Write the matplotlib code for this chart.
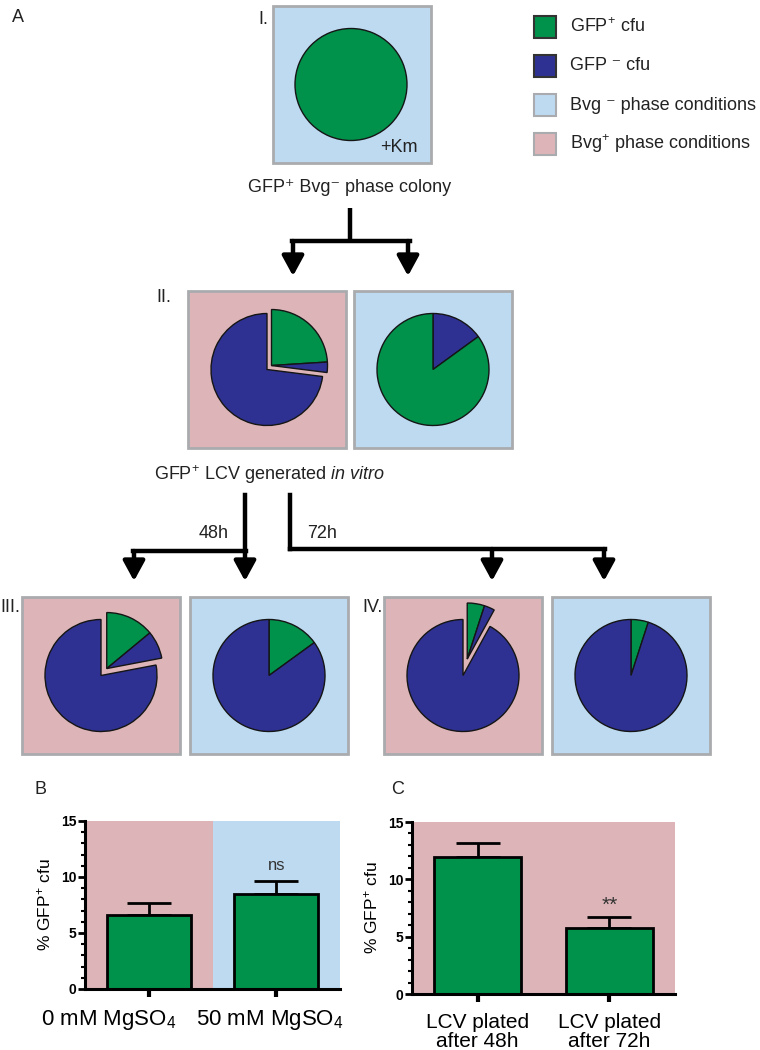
import numpy as np
import matplotlib
matplotlib.use('Agg')
import matplotlib.pyplot as plt
from matplotlib.patches import Rectangle
from matplotlib.transforms import ScaledTranslation

plt.rcParams['font.family'] = ['Liberation Sans', 'DejaVu Sans']
plt.rcParams['mathtext.fontset'] = 'custom'
plt.rcParams['mathtext.rm'] = 'Liberation Sans'
plt.rcParams['mathtext.it'] = 'Liberation Sans:italic'
plt.rcParams['mathtext.bf'] = 'Liberation Sans:bold'

GREEN = '#00924A'
NAVY = '#2E3192'
PINK = '#DDB5B8'
LBLUE = '#BDDAF1'
GREY = '#A9ABAE'

# legend entries
legend_labels = ['GFP$^{+}$ cfu', 'GFP \u207b cfu',
                 'Bvg \u207b phase conditions', 'Bvg$^{+}$ phase conditions']
legend_colors = [GREEN, NAVY, LBLUE, PINK]

# pie fractions (% cfu), clockwise from 12 o'clock
pie_I = [100]
pie_I_colors = [GREEN]
pie_II_pos = [24, 3, 73]       # Bvg+ plate, first two slices pulled out
pie_II_pos_colors = [GREEN, NAVY, NAVY]
pie_II_neg = [15, 85]
pie_II_neg_colors = [NAVY, GREEN]
pie_III_pos = [14, 8, 78]
pie_III_pos_colors = [GREEN, NAVY, NAVY]
pie_III_neg = [15, 85]
pie_III_neg_colors = [GREEN, NAVY]
pie_IV_pos = [5, 3, 92]
pie_IV_pos_colors = [GREEN, NAVY, NAVY]
pie_IV_neg = [5, 95]
pie_IV_neg_colors = [GREEN, NAVY]

# panel B / C bar data
b_labels = ['0 mM MgSO$_4$', '50 mM MgSO$_4$']
b_means = [6.6, 8.5]
b_err = [1.05, 1.1]
c_labels = ['LCV plated\nafter 48h', 'LCV plated\nafter 72h']
c_means = [11.95, 5.75]
c_err = [1.25, 1.0]

W, H = 760, 1050
R = 56

fig = plt.figure(figsize=(W / 100, H / 100), dpi=100)
ax = fig.add_axes([0, 0, 1, 1])


def plate(x0, y0, color, w=158, h=157):
    ax.add_patch(Rectangle((x0, y0), w, h, facecolor=color, edgecolor=GREY, lw=2, zorder=1))
    return x0 + w / 2, y0 + h / 2


def pie(values, colors, cx, cy, n_out=0, shift=0):
    wedges, _ = ax.pie(values, colors=colors, radius=R, center=(cx, cy),
                       startangle=-90, counterclock=True, frame=True,
                       wedgeprops=dict(edgecolor='#151515', linewidth=1.0, zorder=2))
    if n_out:
        grp = wedges[:n_out]
        mid = np.deg2rad((grp[0].theta1 + grp[-1].theta2) / 2)
        for w in grp:
            w.set_center((cx + shift * np.cos(mid), cy + shift * np.sin(mid)))


def arrow_down(x, y0, y1):
    ax.annotate('', xy=(x, y1), xytext=(x, y0),
                arrowprops=dict(arrowstyle='-|>,head_length=1.1,head_width=0.6',
                                lw=3.2, color='k', shrinkA=0, shrinkB=0,
                                mutation_scale=11))


txt = dict(fontsize=13, color='#222222')

# legend
for i, (lab, col) in enumerate(zip(legend_labels, legend_colors)):
    yc = 27 + i * 39
    edge = '#333333' if i < 2 else GREY
    ax.add_patch(Rectangle((534, yc - 11), 22, 22, facecolor=col, edgecolor=edge, lw=1.5))
    ax.text(570, yc, lab, va='center', ha='left', **txt)

# panel I
ax.text(18, 18, 'A', va='center', ha='center', **txt)
cx, cy = plate(273, 6, LBLUE, 158, 157)
pie(pie_I, pie_I_colors, cx - 1, cy)
ax.text(418, 148, '+Km', ha='right', va='center', **txt)
ax.text(258, 20, 'I.', ha='left', va='center', **txt)
ax.text(350, 187, 'GFP\u207a Bvg\u207b phase colony', ha='center', va='center', **txt)

# first fork
ax.plot([350, 350], [208, 241], color='k', lw=3.2, solid_capstyle='butt')
ax.plot([291.5, 409.5], [241, 241], color='k', lw=3.2, solid_capstyle='projecting')
arrow_down(293, 241, 276)
arrow_down(408, 241, 276)

# panel II
ax.text(156, 298, 'II.', ha='left', va='center', **txt)
cx, cy = plate(188, 291, PINK)
pie(pie_II_pos, pie_II_pos_colors, cx, cy, n_out=2, shift=6)
cx, cy = plate(354, 291, LBLUE)
pie(pie_II_neg, pie_II_neg_colors, cx, cy)
ax.text(154, 475, 'GFP$^{+}$ LCV generated $\\mathit{in\\ vitro}$', ha='left', va='center', **txt)

# second fork
ax.plot([245, 245], [495, 551], color='k', lw=3.2, solid_capstyle='projecting')
ax.plot([133, 246], [551, 551], color='k', lw=3.2, solid_capstyle='projecting')
ax.plot([290, 290], [495, 549], color='k', lw=3.2, solid_capstyle='projecting')
ax.plot([290, 605], [549, 549], color='k', lw=3.2, solid_capstyle='projecting')
arrow_down(134, 551, 581)
arrow_down(245, 551, 581)
arrow_down(492, 549, 581)
arrow_down(604, 549, 581)
ax.text(214, 533, '48h', ha='center', va='center', **txt)
ax.text(322, 533, '72h', ha='center', va='center', **txt)

# panels III and IV
ax.text(0, 608, 'III.', ha='left', va='center', **txt)
cx, cy = plate(22, 597, PINK)
pie(pie_III_pos, pie_III_pos_colors, cx, cy, n_out=2, shift=9)
cx, cy = plate(190, 597, LBLUE)
pie(pie_III_neg, pie_III_neg_colors, cx, cy)
ax.text(362, 608, 'IV.', ha='left', va='center', **txt)
cx, cy = plate(384, 597, PINK)
pie(pie_IV_pos, pie_IV_pos_colors, cx, cy, n_out=2, shift=17)
cx, cy = plate(552, 597, LBLUE)
pie(pie_IV_neg, pie_IV_neg_colors, cx, cy)

ax.text(40, 789, 'B', ha='center', va='center', **txt)
ax.text(398, 789, 'C', ha='center', va='center', **txt)

ax.set_aspect('auto')
ax.set_xlim(0, W)
ax.set_ylim(H, 0)
ax.axis('off')


def bar_panel(rect, labels, means, errs, note, note_y, note_size, label_size):
    a = fig.add_axes(rect)
    x = np.arange(len(means))
    a.bar(x, means, width=0.66, color=GREEN, edgecolor='k', lw=2, zorder=3)
    a.errorbar(x, means, yerr=[np.zeros(len(errs)), errs], fmt='none', ecolor='k',
               elinewidth=2, capsize=16, capthick=2, zorder=2)
    a.text(x[-1], note_y, note, ha='center', va='center', fontsize=note_size, color='#333333')
    a.set_xlim(-0.5, len(means) - 0.5)
    a.set_ylim(0, 15)
    a.set_xticks(x)
    a.set_xticklabels(labels, fontsize=label_size, linespacing=1.0)
    a.set_yticks([0, 5, 10, 15])
    a.set_yticks(np.arange(0, 16), minor=True)
    a.spines[['top', 'right']].set_visible(False)
    for s in ('left', 'bottom'):
        a.spines[s].set_linewidth(2.2)
        a.spines[s].set_zorder(5)
    a.tick_params(axis='y', which='major', length=5, width=2, labelsize=10, pad=1)
    a.tick_params(axis='y', which='minor', length=3, width=1.5)
    a.tick_params(axis='x', length=6, width=3, pad=8)
    for t in a.get_yticklabels():
        t.set_fontweight('bold')
    a.set_ylabel('% GFP$^{+}$ cfu', fontsize=12.5, labelpad=6)
    return a


axB = bar_panel([85 / W, 1 - 989 / H, 255 / W, 168 / H], b_labels, b_means, b_err,
                'ns', 11.0, 12, 16)
axB.axvspan(-0.5, 0.5, color=PINK, lw=0, zorder=0)
axB.axvspan(0.5, 1.5, color=LBLUE, lw=0, zorder=0)
# the category labels in the original sit left of their ticks
for lab, dx in zip(axB.get_xticklabels(), [-40, -6]):
    lab.set_transform(lab.get_transform() + ScaledTranslation(dx / 100, 0, fig.dpi_scale_trans))

axC = bar_panel([412 / W, 1 - 994 / H, 263 / W, 172 / H], c_labels, c_means, c_err,
                '**', 7.7, 15, 15)
axC.set_facecolor(PINK)

fig.savefig('out.png', dpi=100)
